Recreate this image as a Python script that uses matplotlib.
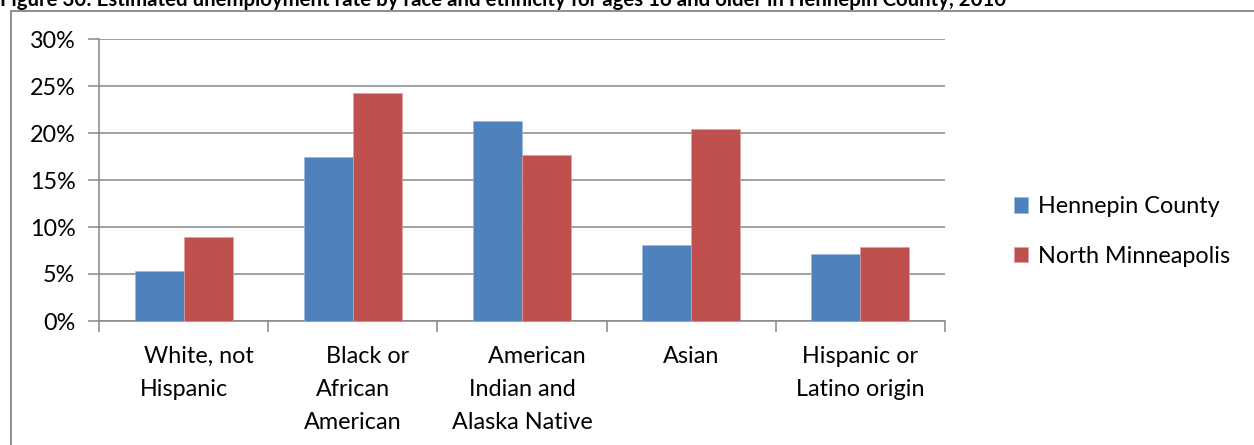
import matplotlib
matplotlib.use("Agg")
import matplotlib.pyplot as plt
import numpy as np
from matplotlib.ticker import FuncFormatter, FixedLocator
from matplotlib.patches import Rectangle

# ---- data ----
categories = [
    "     White, not\nHispanic",
    "     Black or\nAfrican\nAmerican",
    "     American\nIndian and\nAlaska Native",
    "Asian",
    "Hispanic or\nLatino origin",
]
series_names = ["Hennepin County", "North Minneapolis"]
hennepin = [5.3, 17.4, 21.3, 8.1, 7.1]
north_mpls = [8.9, 24.3, 17.7, 20.4, 7.9]
yticks = [0, 5, 10, 15, 20, 25, 30]
title = ("Figure 30: Estimated unemployment rate by race and ethnicity for ages 16 "
         "and older in Hennepin County, 2010")

BLUE = "#4F81BD"
RED = "#C0504D"
GRID = "#868686"
FONT = "Lato"
FS = 16.8

W, H = 1254, 445
fig = plt.figure(figsize=(W / 100, H / 100), dpi=100)
plt.rcParams["font.family"] = [FONT, "DejaVu Sans"]

# chart-area border (only top and left visible)
fig.patches.append(Rectangle((11 / W, -0.1), 1.2, (H - 11) / H + 0.1,
                             transform=fig.transFigure, fill=False,
                             edgecolor=GRID, linewidth=1.3))

# title at very top (cut off by the figure edge, as in the reference)
fig.text(0.0, (H - 5.7) / H, title, fontsize=14.7, fontweight="bold",
         va="baseline", ha="left", family=FONT)

ax = fig.add_axes([99 / W, 124 / H, (945 - 99) / W, (321 - 39) / H])
x = np.arange(len(categories))
bw = 0.29
ax.bar(x - bw / 2, hennepin, bw, color=BLUE, edgecolor="#9DB7DA",
       linewidth=0.5, label=series_names[0], zorder=3)
ax.bar(x + bw / 2, north_mpls, bw, color=RED, edgecolor="#DDA09F",
       linewidth=0.5, label=series_names[1], zorder=3)

ax.set_xlim(-0.5, len(categories) - 0.5)
ax.set_ylim(0, 30)
ax.set_yticks(yticks)
ax.yaxis.set_major_formatter(FuncFormatter(lambda v, p: f"{v:.0f}%"))
ax.yaxis.grid(True, color=GRID, linewidth=1.1, zorder=0)
ax.set_axisbelow(True)

ax.set_xticks(x)
ax.set_xticklabels(categories, fontsize=FS, linespacing=1.72)
ax.xaxis.set_minor_locator(FixedLocator(np.arange(-0.5, len(categories), 1.0)))
ax.tick_params(axis="x", which="major", length=0, pad=18)
ax.tick_params(axis="x", which="minor", length=8, width=1.1, color=GRID,
               direction="out")
ax.tick_params(axis="y", length=8, width=1.1, color=GRID, labelsize=FS,
               pad=9)

for s in ["top", "right"]:
    ax.spines[s].set_visible(False)
for s in ["left", "bottom"]:
    ax.spines[s].set_color(GRID)
    ax.spines[s].set_linewidth(1.1)

leg = ax.legend(loc="center left", bbox_to_anchor=(1014 / W, 213.5 / H),
                bbox_transform=fig.transFigure, frameon=False,
                fontsize=FS, handlelength=0.62, handleheight=0.62,
                handletextpad=0.4, labelspacing=1.22, borderpad=0,
                borderaxespad=0)

fig.savefig("out.png", dpi=100)
